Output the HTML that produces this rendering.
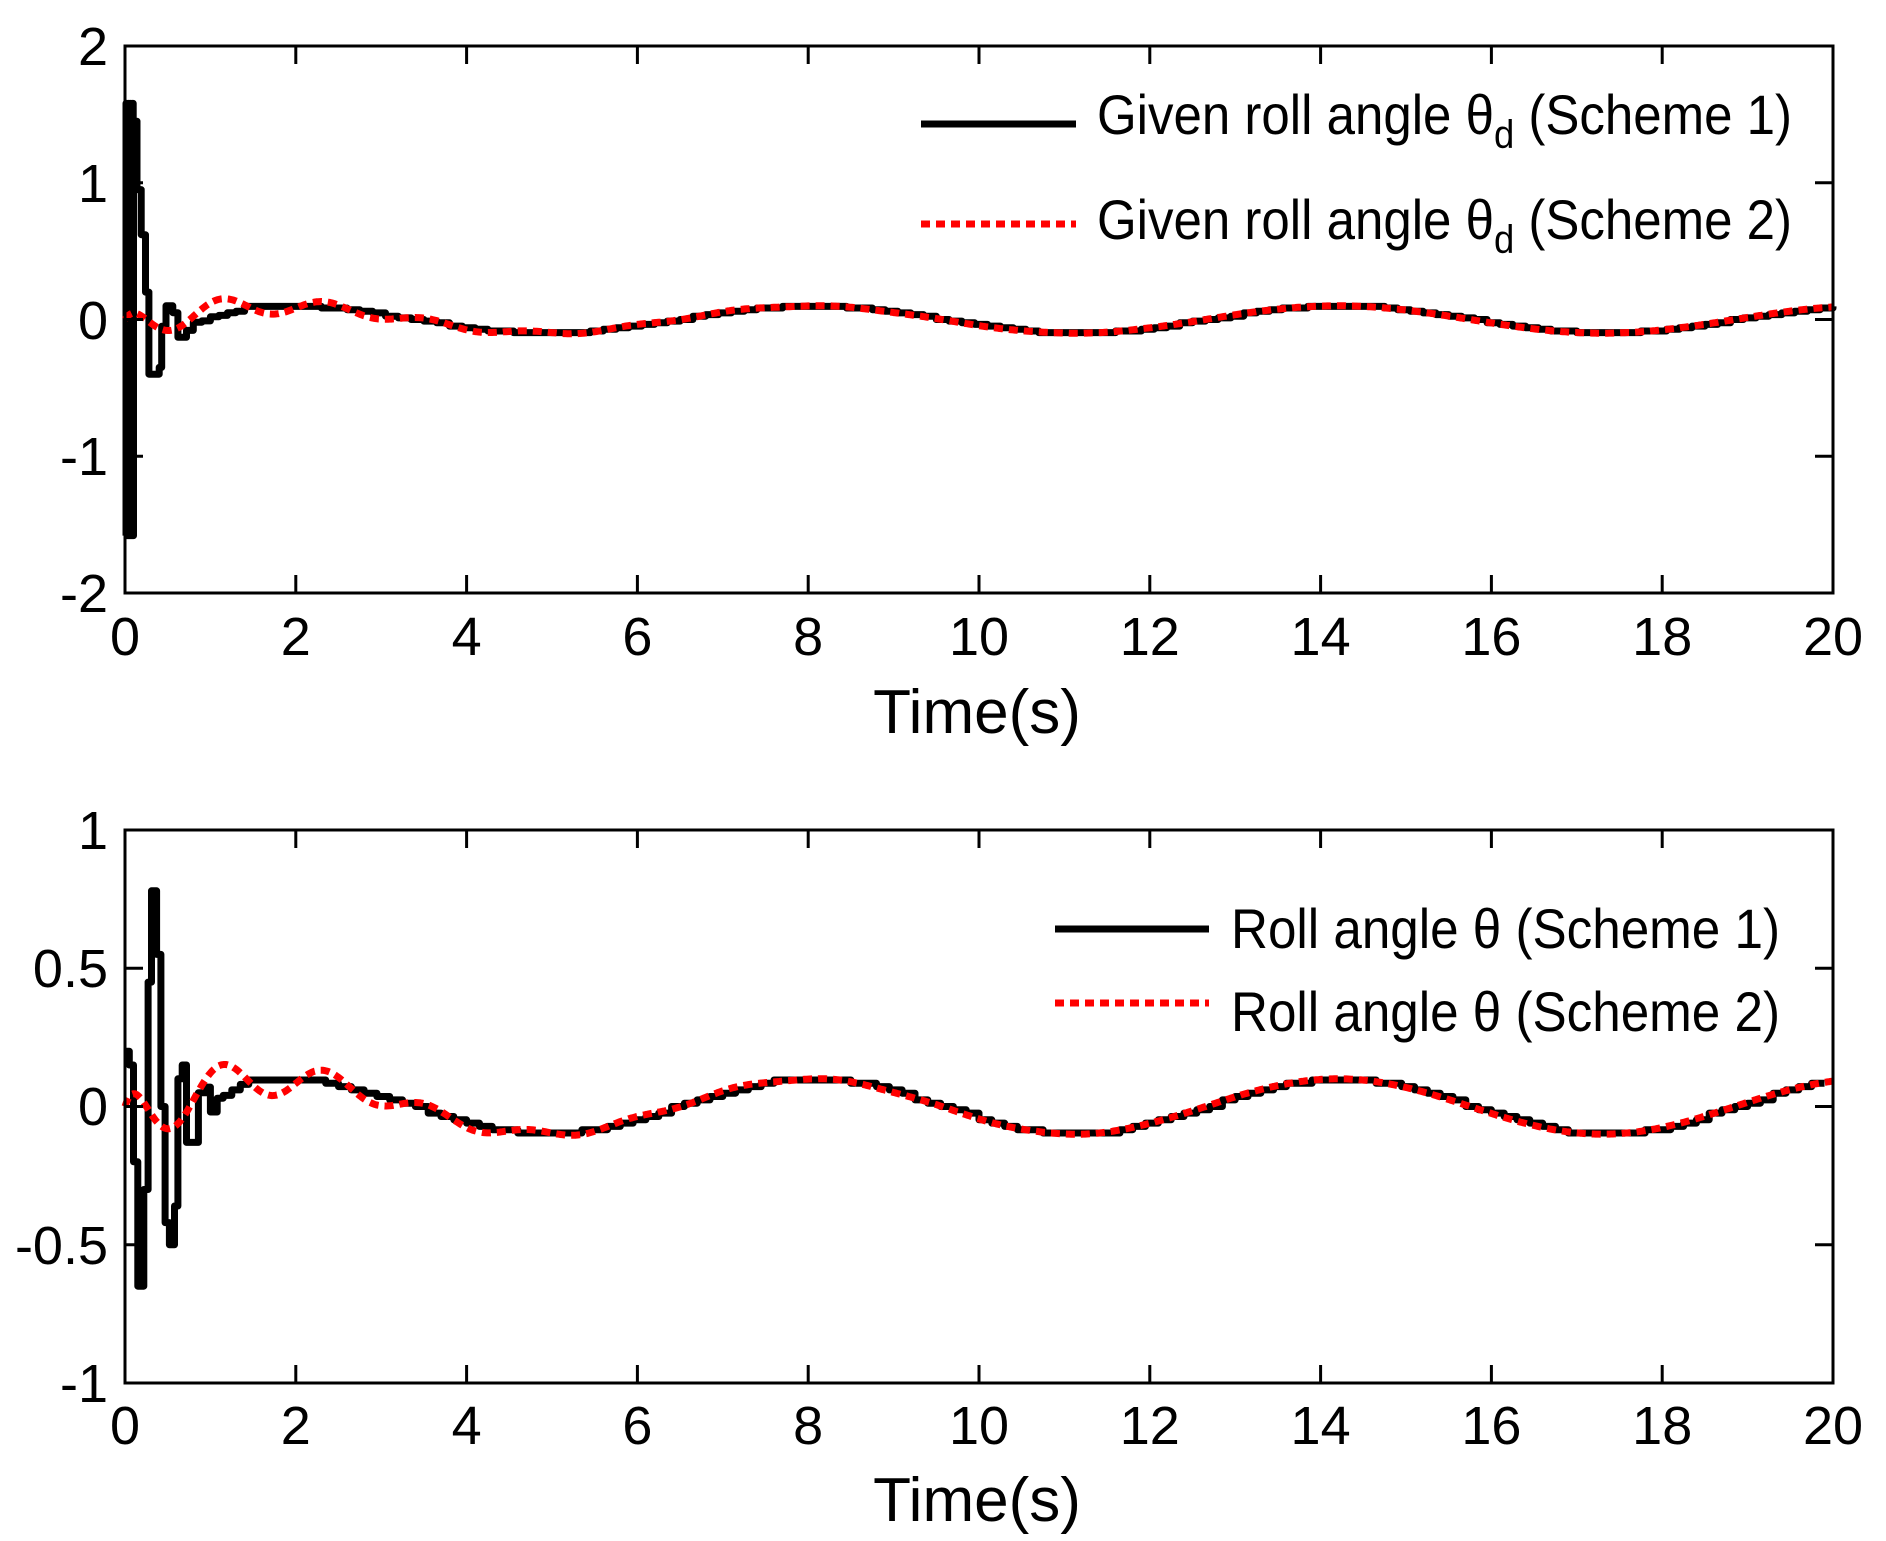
<!DOCTYPE html>
<html><head><meta charset="utf-8"><style>
html,body{margin:0;padding:0;background:#fff;}
svg{display:block;}
text{font-family:"Liberation Sans",Arial,sans-serif;fill:#000;}
</style></head><body>
<svg id="s" width="1886" height="1541" viewBox="0 0 1886 1541" xmlns="http://www.w3.org/2000/svg">
<rect width="1886" height="1541" fill="#fff"/>
<g id="plots"></g>
<rect x="125" y="46" width="1708" height="547" fill="none" stroke="#000" stroke-width="3"/>
<rect x="125" y="830" width="1708" height="553" fill="none" stroke="#000" stroke-width="3"/>
<g id="ticks" stroke="#000" stroke-width="3"></g>
<g font-size="54" text-anchor="end">
<text x="108" y="65">2</text>
<text x="108" y="202">1</text>
<text x="108" y="339">0</text>
<text x="108" y="475">-1</text>
<text x="108" y="612">-2</text>
<text x="108" y="849">1</text>
<text x="108" y="987">0.5</text>
<text x="108" y="1125">0</text>
<text x="108" y="1264">-0.5</text>
<text x="108" y="1402">-1</text>
</g>
<g id="xl" font-size="54" text-anchor="middle"></g>
<text x="977" y="733" font-size="62" text-anchor="middle">Time(s)</text>
<text x="977" y="1521" font-size="62" text-anchor="middle">Time(s)</text>
<line x1="921" y1="124" x2="1076" y2="124" stroke="#000" stroke-width="7"/>
<line x1="921" y1="224" x2="1076" y2="224" stroke="#f00" stroke-width="7" stroke-dasharray="9,6"/>
<text x="1097" y="134" font-size="56" textLength="695" lengthAdjust="spacingAndGlyphs">Given roll angle θ<tspan dy="14" font-size="40">d</tspan><tspan dy="-14"> (Scheme 1)</tspan></text>
<text x="1097" y="239" font-size="56" textLength="695" lengthAdjust="spacingAndGlyphs">Given roll angle θ<tspan dy="14" font-size="40">d</tspan><tspan dy="-14"> (Scheme 2)</tspan></text>
<line x1="1055" y1="929" x2="1209" y2="929" stroke="#000" stroke-width="7"/>
<line x1="1055" y1="1003" x2="1209" y2="1003" stroke="#f00" stroke-width="7" stroke-dasharray="9,6"/>
<text x="1231" y="948" font-size="56" textLength="549" lengthAdjust="spacingAndGlyphs">Roll angle θ (Scheme 1)</text>
<text x="1231" y="1031" font-size="56" textLength="549" lengthAdjust="spacingAndGlyphs">Roll angle θ (Scheme 2)</text>
</svg>
<script>
(function(){
var NS="http://www.w3.org/2000/svg";
function X(t){return 125+t*85.4;}
function Y1(v){return 319.5-v*136.75;}
function Y2(v){return 1106.5-v*276.5;}
function base(t){return 0.1*Math.sin(2*Math.PI*(t-6.45)/6.2);}
function red(t){return base(t)*(1-Math.exp(-t/0.4))-0.13*Math.exp(-t/2.2)*Math.sin(2*Math.PI*(t-0.25)/1.2)*(1-Math.exp(-t/0.12));}
var g=document.getElementById('plots');
function path(d,col,dash){var p=document.createElementNS(NS,'path');p.setAttribute('d',d);p.setAttribute('fill','none');p.setAttribute('stroke',col);p.setAttribute('stroke-width','7');p.setAttribute('stroke-linejoin','round');if(dash)p.setAttribute('stroke-dasharray',dash);g.appendChild(p);}
var tk=document.getElementById('ticks'),xl=document.getElementById('xl');
function ln(a,b,c,d){var l=document.createElementNS(NS,'line');l.setAttribute('x1',a);l.setAttribute('y1',b);l.setAttribute('x2',c);l.setAttribute('y2',d);tk.appendChild(l);}
for(var i=0;i<=10;i++){var x=X(i*2);
 [[46,593],[830,1383]].forEach(function(r){ln(x,r[1],x,r[1]-18);ln(x,r[0],x,r[0]+18);});
 [655,1444].forEach(function(y){var t=document.createElementNS(NS,'text');t.setAttribute('x',x);t.setAttribute('y',y);t.textContent=String(i*2);xl.appendChild(t);});
}
for(var j=0;j<5;j++){var y1=46+j*136.75,y2=830+j*138.25;
 ln(125,y1,143,y1);ln(1833,y1,1815,y1);ln(125,y2,143,y2);ln(1833,y2,1815,y2);}
function stairs(pts,Yf){var d='M'+X(pts[0][0]).toFixed(1)+' '+Yf(pts[0][1]).toFixed(1);
 for(var k=1;k<pts.length;k++){d+=' L'+X(pts[k][0]).toFixed(1)+' '+Yf(pts[k-1][1]).toFixed(1)+' L'+X(pts[k][0]).toFixed(1)+' '+Yf(pts[k][1]).toFixed(1);}return d;}
var p1=[];
for(var t=0;t<0.1;t+=0.012){p1.push([t,(Math.round(t/0.012)%2?1.58:-1.58)]);}
[[0.1,1.45],[0.14,0.95],[0.19,0.62],[0.24,0.2],[0.28,-0.4],[0.4,-0.35],[0.43,-0.05],[0.48,0.1],[0.56,0.05],[0.62,-0.13],[0.72,-0.08],[0.8,-0.02],[0.9,-0.01],[1.0,0.02],[1.1,0.03],[1.2,0.05],[1.3,0.06]].forEach(function(a){p1.push(a);});
for(var t=1.4;t<=20.01;t+=0.15){p1.push([t,Math.round(base(t)/0.012)*0.012]);}
path(stairs(p1,Y1),'#000');
var p2=[[0,0.2],[0.05,0.15],[0.1,-0.2],[0.15,-0.65],[0.22,-0.3],[0.27,0.45],[0.31,0.78],[0.37,0.55],[0.42,0],[0.47,-0.42],[0.52,-0.5],[0.58,-0.36],[0.62,0.1],[0.67,0.15],[0.72,-0.13],[0.86,0.05],[0.95,0.07],[1.0,-0.02],[1.08,0.03],[1.15,0.04],[1.25,0.06],[1.35,0.08]];
for(var t=1.45;t<=20.01;t+=0.15){p2.push([t,Math.round(base(t)/0.012)*0.012]);}
path(stairs(p2,Y2),'#000');
function smooth(Yf){var d='';for(var t=0;t<=20.001;t+=0.02){d+=(t===0?'M':' L')+X(t).toFixed(1)+' '+Yf(red(t)).toFixed(1);}return d;}
path(smooth(Y1),'#f00','9,6');
path(smooth(Y2),'#f00','9,6');
})();
</script>
</body></html>
